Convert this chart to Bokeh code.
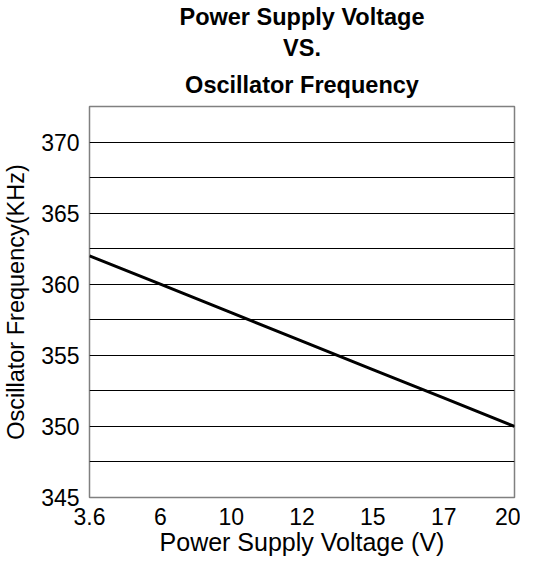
from bokeh.plotting import figure
from bokeh.models import FixedTicker, Title, Range1d
from bokeh.embed import file_html
from bokeh.resources import INLINE

voltage_labels = ["3.6", "6", "10", "12", "15", "17", "20"]
frequency_khz = [362, 360, 358, 356, 354, 352, 350]
y_ticks = [345, 350, 355, 360, 365, 370]
y_grid = [347.5, 350, 352.5, 355, 357.5, 360, 362.5, 365, 367.5, 370]
title_lines = ["Power Supply Voltage", "VS.", "Oscillator Frequency"]
x_title = "Power Supply Voltage (V)"
y_title = "Oscillator Frequency(KHz)"

x_pos = list(range(len(voltage_labels)))
FONT = "Liberation Sans"

p = figure(width=520, height=558, output_backend="svg", toolbar_location=None, title=None,
           x_range=Range1d(0, len(voltage_labels) - 1), y_range=Range1d(345, 372.5),
           min_border_left=84, min_border_right=6, min_border_bottom=40, min_border_top=100)

standoffs = [17, 2, 3]
for t, s in zip(reversed(title_lines), standoffs):
    p.add_layout(Title(text=t, align="center", text_font=FONT, text_font_size="23.5px",
                       text_font_style="bold", text_color="black", standoff=s), "above")

p.line(x_pos, frequency_khz, line_color="black", line_width=3)

p.xaxis.ticker = FixedTicker(ticks=x_pos)
p.xaxis.major_label_overrides = {i: s for i, s in zip(x_pos, voltage_labels)}
p.yaxis.ticker = FixedTicker(ticks=y_ticks)
p.xaxis.axis_label = x_title
p.yaxis.axis_label = y_title

for ax in (p.xaxis, p.yaxis):
    ax.axis_line_color = None
    ax.major_tick_line_color = None
    ax.minor_tick_line_color = None
    ax.major_tick_out = 0
    ax.major_tick_in = 0
    ax.minor_tick_out = 0
    ax.major_label_text_font = FONT
    ax.major_label_text_font_size = "23px"
    ax.major_label_text_color = "black"
    ax.axis_label_text_font = FONT
    ax.axis_label_text_font_style = "normal"
    ax.axis_label_text_color = "black"
p.xaxis.axis_label_text_font_size = "25px"
p.yaxis.axis_label_text_font_size = "23.5px"
p.xaxis.major_label_standoff = 10
p.xaxis.axis_label_standoff = 0
p.yaxis.major_label_standoff = 10
p.yaxis.axis_label_standoff = 9

p.xgrid.grid_line_color = None
p.ygrid.ticker = FixedTicker(ticks=y_grid)
p.ygrid.grid_line_color = "black"
p.ygrid.grid_line_width = 1
p.outline_line_color = "#808080"
p.outline_line_width = 1.5
p.background_fill_color = "white"
p.border_fill_color = "white"

open("out.html", "w").write(file_html(p, INLINE))
